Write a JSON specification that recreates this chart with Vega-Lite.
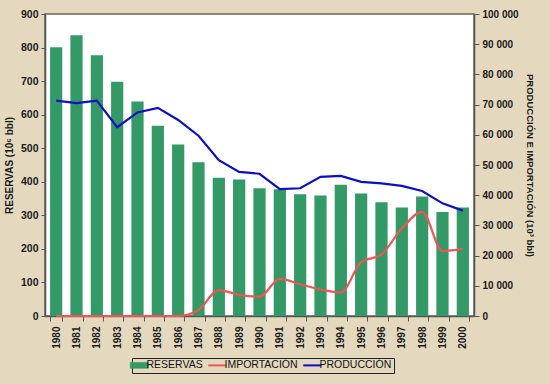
{
  "$schema": "https://vega.github.io/schema/vega-lite/v6.json",
  "autosize": {"type": "none"},
  "width": 429,
  "height": 302,
  "padding": {"left": 45, "top": 14, "right": 76, "bottom": 68},
  "background": "#e4d9bf",
  "config": {
    "font": "Liberation Sans",
    "view": {"fill": "white", "stroke": "#6e6752", "strokeWidth": 1.5},
    "axis": {"labelFont": "Liberation Sans", "labelFontWeight": "bold", "labelColor": "#1a1a1a", "titleFont": "Liberation Sans", "titleFontWeight": "bold", "titleColor": "#1a1a1a", "domainColor": "#555555", "tickColor": "#555555", "grid": false, "labelOverlap": false}
  },
  "data": {
    "values": [
      {"year": "1980", "reservas": 801, "produccion": 71300, "importacion": 0},
      {"year": "1981", "reservas": 837, "produccion": 70500, "importacion": 0},
      {"year": "1982", "reservas": 777, "produccion": 71300, "importacion": 0},
      {"year": "1983", "reservas": 698, "produccion": 62500, "importacion": 0},
      {"year": "1984", "reservas": 639, "produccion": 67400, "importacion": 0},
      {"year": "1985", "reservas": 567, "produccion": 68900, "importacion": 0},
      {"year": "1986", "reservas": 511, "produccion": 64900, "importacion": 0},
      {"year": "1987", "reservas": 458, "produccion": 59700, "importacion": 2000},
      {"year": "1988", "reservas": 412, "produccion": 51600, "importacion": 8600},
      {"year": "1989", "reservas": 407, "produccion": 47700, "importacion": 7000},
      {"year": "1990", "reservas": 381, "produccion": 47100, "importacion": 6400},
      {"year": "1991", "reservas": 378, "produccion": 42000, "importacion": 12300},
      {"year": "1992", "reservas": 363, "produccion": 42300, "importacion": 10500},
      {"year": "1993", "reservas": 359, "produccion": 46100, "importacion": 8800},
      {"year": "1994", "reservas": 391, "produccion": 46400, "importacion": 7800},
      {"year": "1995", "reservas": 365, "produccion": 44400, "importacion": 17800},
      {"year": "1996", "reservas": 339, "produccion": 43900, "importacion": 20400},
      {"year": "1997", "reservas": 323, "produccion": 43100, "importacion": 29000},
      {"year": "1998", "reservas": 356, "produccion": 41400, "importacion": 34500},
      {"year": "1999", "reservas": 310, "produccion": 37300, "importacion": 21500},
      {"year": "2000", "reservas": 323, "produccion": 34900, "importacion": 22200}
    ]
  },
  "encoding": {
    "x": {
      "field": "year",
      "type": "ordinal",
      "scale": {"type": "band", "paddingInner": 0.4, "paddingOuter": 0.25},
      "axis": {"title": null, "labelAngle": -90, "labelFontSize": 10, "labelPadding": 5, "tickBand": "extent", "tickSize": 5, "domainWidth": 1.5}
    }
  },
  "layer": [
    {
      "mark": {"type": "bar"},
      "encoding": {
        "y": {
          "field": "reservas",
          "type": "quantitative",
          "scale": {"domain": [0, 900]},
          "axis": {"title": "RESERVAS (10⁶ bbl)", "values": [0, 100, 200, 300, 400, 500, 600, 700, 800, 900], "labelFontSize": 10.5, "titleFontSize": 10, "tickSize": 4, "labelPadding": 3, "titlePadding": 6, "domainWidth": 1.5, "labelOverlap": false}
        },
        "color": {
          "datum": "RESERVAS",
          "scale": {"domain": ["RESERVAS", "IMPORTACIÓN", "PRODUCCIÓN"], "range": ["#339966", "#ee5555", "#0a10c4"]},
          "legend": {
            "title": null,
            "orient": "none",
            "legendX": 87,
            "legendY": 344,
            "direction": "horizontal",
            "columns": 3,
            "columnPadding": 1,
            "symbolSize": 324,
            "labelFontSize": 10.5,
            "labelColor": "#111111",
            "labelOffset": 2,
            "strokeColor": "#222222",
            "padding": 2,
            "encode": {
              "symbols": {
                "update": {
                  "shape": {"signal": "datum.value === 'RESERVAS' ? 'M-1,-0.33H1V0.33H-1Z' : 'M-1,0H1'"},
                  "fill": {"signal": "datum.value === 'RESERVAS' ? '#339966' : 'transparent'"},
                  "stroke": {"signal": "datum.value === 'RESERVAS' ? '#339966' : (datum.value === 'IMPORTACIÓN' ? '#ee5555' : '#0a10c4')"},
                  "strokeWidth": {"signal": "datum.value === 'RESERVAS' ? 0.5 : 2"},
                  "opacity": {"value": 1},
                  "fillOpacity": {"value": 1},
                  "strokeOpacity": {"value": 1}
                }
              }
            }
          }
        }
      }
    },
    {
      "layer": [
        {
          "mark": {"type": "line", "strokeWidth": 2.2, "interpolate": "linear"},
          "encoding": {
            "y": {
              "field": "produccion",
              "type": "quantitative",
              "scale": {"domain": [0, 100000]},
              "axis": {"orient": "right", "title": "PRODUCCIÓN E IMPORTACIÓN (10³ bbl)", "values": [0, 10000, 20000, 30000, 40000, 50000, 60000, 70000, 80000, 90000, 100000], "labelExpr": "replace(format(datum.value, ','), ',', ' ')", "labelFontSize": 10, "titleFontSize": 9.5, "tickSize": 5, "labelPadding": 3, "titlePadding": 6, "domainWidth": 1.5, "labelOverlap": false, "labelSeparation": 0}
            },
            "color": {"datum": "PRODUCCIÓN"}
          }
        },
        {
          "mark": {"type": "line", "strokeWidth": 2.2, "interpolate": "monotone"},
          "encoding": {
            "y": {
              "field": "importacion",
              "type": "quantitative",
              "scale": {"domain": [0, 100000]},
              "axis": {"orient": "right", "title": "PRODUCCIÓN E IMPORTACIÓN (10³ bbl)", "values": [0, 10000, 20000, 30000, 40000, 50000, 60000, 70000, 80000, 90000, 100000], "labelExpr": "replace(format(datum.value, ','), ',', ' ')", "labelFontSize": 10, "titleFontSize": 9.5, "tickSize": 5, "labelPadding": 3, "titlePadding": 6, "domainWidth": 1.5, "labelOverlap": false, "labelSeparation": 0}
            },
            "color": {"datum": "IMPORTACIÓN"}
          }
        }
      ]
    }
  ],
  "resolve": {"scale": {"y": "independent"}}
}
